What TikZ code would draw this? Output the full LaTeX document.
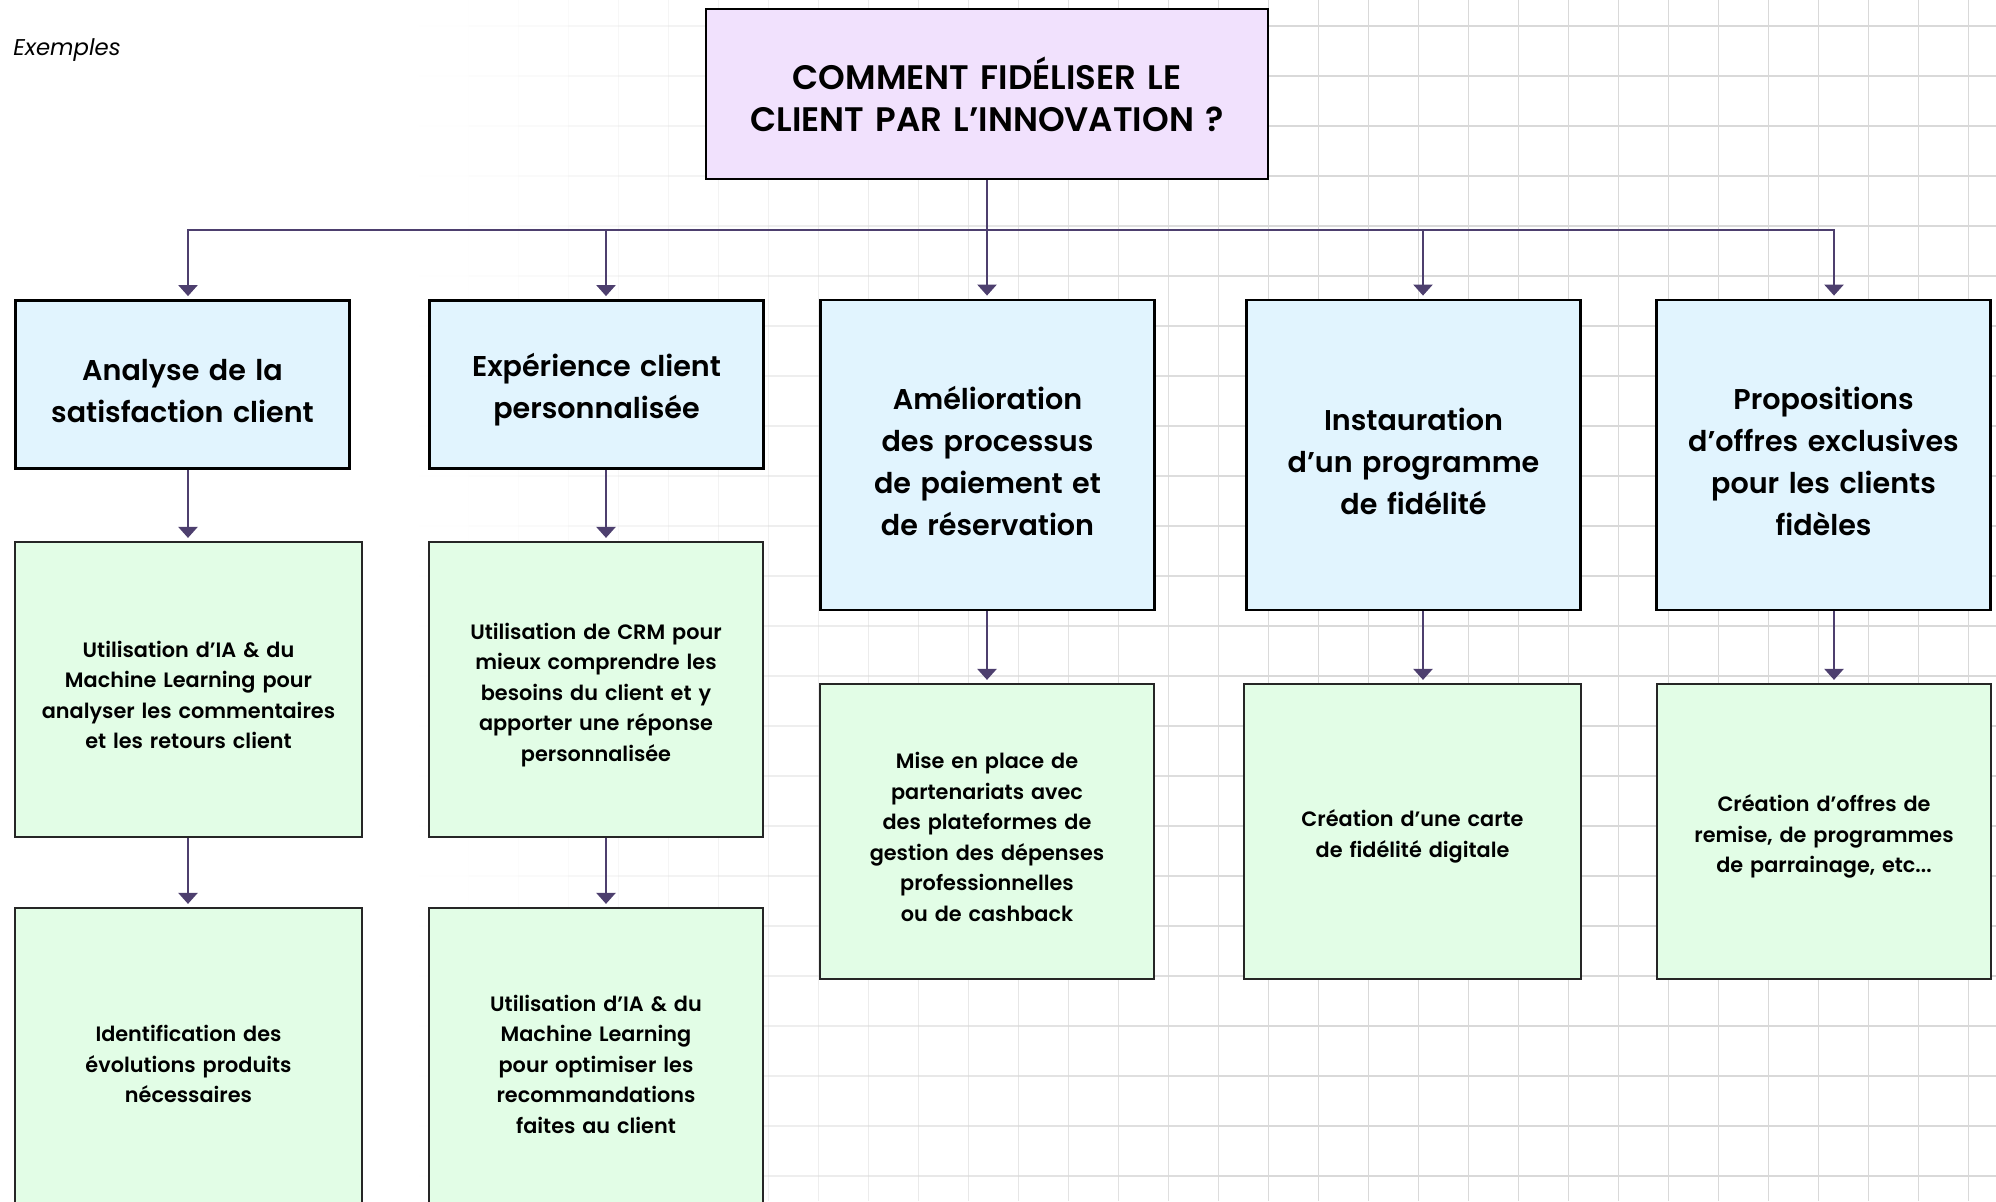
\documentclass[tikz,border=0pt]{standalone}
\usepackage{fontspec}
\setmainfont{Poppins}
\IfFontExistsTF{Poppins SemiBold}{\newfontfamily\medfont{Poppins SemiBold}}{%
  \IfFontExistsTF{Poppins Medium}{\newfontfamily\medfont{Poppins Medium}[FakeBold=1.5]}{%
    \newfontfamily\medfont{Poppins}[FakeBold=2]}}
\usetikzlibrary{arrows.meta}

\definecolor{qfill}{HTML}{F1E1FD}
\definecolor{bfill}{HTML}{E1F4FE}
\definecolor{gfill}{HTML}{E2FDE6}
\definecolor{arrcol}{HTML}{4D3F6E}
\definecolor{gridcol}{HTML}{D9D9D9}

\begin{document}
\begin{tikzpicture}[x=0.5pt,y=-0.5pt,
  qbox/.style={draw=black,line width=1.3pt,fill=qfill,minimum width=281pt,minimum height=85pt,
    text width=260pt,align=center,text height=17pt,font=\medfont\fontsize{17}{21}\selectfont},
  ibox/.style={draw=black,line width=1.4pt,fill=bfill,minimum width=167pt,
    text width=150pt,align=center,text height=17.2pt,font=\medfont\fontsize{14.3}{21}\selectfont},
  ebox/.style={draw=black!85,line width=1.1pt,fill=gfill,minimum width=167pt,minimum height=147.5pt,
    text width=150pt,align=center,text height=13.5pt,font=\medfont\fontsize{10.4}{15.25}\selectfont},
  arr/.style={draw=arrcol,line width=1.2pt,-{Triangle[width=9.5pt,length=5.5pt]},shorten >=1.5pt}
]
\useasboundingbox (0,0) rectangle (1996,1201);

% faint grid, fading out to the left
\foreach \i in {0,...,40}{
  \pgfmathsetmacro\gx{18.6+50*\i}
  \pgfmathsetmacro\op{min(1,max(0,(\gx-450)/850))}
  \draw[gridcol,line width=0.75pt,opacity=\op] (\gx,0) -- (\gx,1201);
  \foreach \j in {0,...,23}{
    \pgfmathsetmacro\gy{26+50*\j}
    \draw[gridcol,line width=0.75pt,opacity=\op] (\gx-50,\gy) -- (\gx,\gy);
  }
}

\node[anchor=west,inner sep=0pt,font=\itshape\fontsize{11.4}{13}\selectfont] (ex) at (13,50) {Exemples};

% question
\node[qbox] (q) at (987,94) {COMMENT FIDÉLISER LE\\CLIENT PAR L’INNOVATION ?};

% axes
\node[ibox,minimum height=84pt] (i1) at (182.5,384.5) {Analyse de la\\satisfaction client};
\node[ibox,minimum height=84pt] (i2) at (596.5,384.5) {Expérience client\\personnalisée};
\node[ibox,minimum height=155pt] (i3) at (987.5,455) {Amélioration\\des processus\\de paiement et\\de réservation};
\node[ibox,minimum height=155pt] (i4) at (1413.5,455) {Instauration\\d’un programme\\de fidélité};
\node[ibox,minimum height=155pt] (i5) at (1823.5,455) {Propositions\\d’offres exclusives\\pour les clients\\fidèles};

% examples
\node[ebox,minimum width=173.5pt] (e1) at (188.5,689.5) {Utilisation d’IA \& du\\Machine Learning pour\\analyser les commentaires\\et les retours client};
\node[ebox] (e2) at (596,689.5) {Utilisation de CRM pour\\mieux comprendre les\\besoins du client et y\\apporter une réponse\\personnalisée};
\node[ebox] (e3) at (987,831.5) {Mise en place de\\partenariats avec\\des plateformes de\\gestion des dépenses\\professionnelles\\ou de cashback};
\node[ebox,minimum width=168.5pt] (e4) at (1412.5,831.5) {Création d’une carte\\de fidélité digitale};
\node[ebox] (e5) at (1824,831.5) {Création d’offres de\\remise, de programmes\\de parrainage, etc...};
\node[ebox,minimum width=173.5pt,minimum height=151pt] (f1) at (188.5,1059) {Identification des\\évolutions produits\\nécessaires};
\node[ebox,minimum height=151pt] (f2) at (596,1059) {Utilisation d’IA \& du\\Machine Learning\\pour optimiser les\\recommandations\\faites au client};

% connectors
\coordinate (c1) at (188,230);
\coordinate (c2) at (606,230);
\coordinate (c3) at (987,230);
\coordinate (c4) at (1423,230);
\coordinate (c5) at (1834,230);
\draw[arrcol,line width=1.2pt,line cap=rect] (c1) -- (c5);
\draw[arr] (q.south) -- (c3 |- i3.north);
\foreach \c/\n in {c1/i1,c2/i2,c4/i4,c5/i5}
  \draw[arr] (\c) -- (\c |- \n.north);
\foreach \c/\n/\m in {c1/i1/e1,c2/i2/e2,c3/i3/e3,c4/i4/e4,c5/i5/e5}
  \draw[arr] (\c |- \n.south) -- (\c |- \m.north);
\draw[arr] (c1 |- e1.south) -- (c1 |- f1.north);
\draw[arr] (c2 |- e2.south) -- (c2 |- f2.north);
\end{tikzpicture}
\end{document}
